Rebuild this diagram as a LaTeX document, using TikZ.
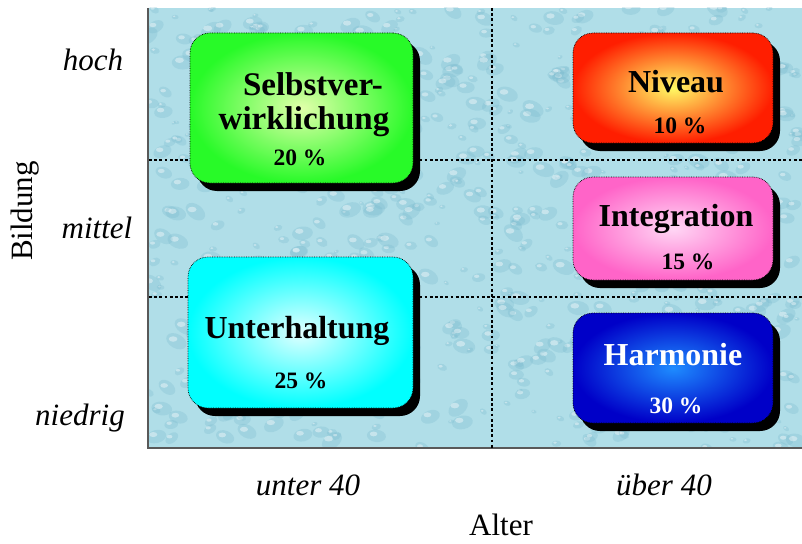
\documentclass[tikz,border=0pt]{standalone}
\usepackage{fontspec}
\setmainfont{Liberation Serif}[ItalicFont={Liberation Serif Italic}, BoldFont={Liberation Serif Bold}]
\usetikzlibrary{shadows}
\definecolor{panelbg}{RGB}{176,222,232}
\definecolor{dropdark}{RGB}{120,185,205}
\definecolor{greenout}{RGB}{40,250,40}
\definecolor{greenin}{RGB}{225,255,170}
\definecolor{redout}{RGB}{255,30,0}
\definecolor{redin}{RGB}{255,250,100}
\definecolor{pinkout}{RGB}{255,100,200}
\definecolor{pinkin}{RGB}{255,215,245}
\definecolor{blueout}{RGB}{0,0,200}
\definecolor{bluein}{RGB}{30,140,255}
\definecolor{cyanout}{RGB}{0,255,255}
\definecolor{cyanin}{RGB}{225,255,255}
\begin{document}
\begin{tikzpicture}[x=1pt,y=-1pt,
  quad/.style={rounded corners=20pt, draw=black, densely dotted, line width=0.7pt,
    shading=radial, inner sep=0pt,
    drop shadow={opacity=1, fill=black, shadow xshift=7pt, shadow yshift=-8pt}},
  boxtitle/.style={font=\bfseries\fontsize{32}{38}\selectfont, inner sep=0pt},
  boxpct/.style={font=\bfseries\fontsize{23.5}{28}\selectfont, inner sep=0pt},
  axislabel/.style={font=\itshape\fontsize{31}{36}\selectfont, inner sep=0pt},
  axistitle/.style={font=\fontsize{31}{36}\selectfont, inner sep=0pt},
  grid dots/.style={line width=2.8pt, dash pattern=on 2.8pt off 2.4pt, black}]
\useasboundingbox (0,0) rectangle (802,543);
% panel
\fill[panelbg] (148,8) rectangle (802,448);
\begin{scope}
\clip (148,8) rectangle (802,448);
\pgfmathsetseed{11}
\foreach \i in {1,...,700}{
  \pgfmathsetmacro\cx{148+654*rnd}
  \pgfmathsetmacro\cy{8+440*rnd}
  \pgfmathsetmacro\rr{2.5+9*rnd}
  \pgfmathsetmacro\ang{-40+80*rnd}
  \fill[dropdark, opacity=0.28, rotate around={\ang:(\cx,\cy)}] (\cx,\cy) ellipse[x radius=\rr pt, y radius=0.65*\rr pt];
  \fill[white, opacity=0.4] (\cx-0.3*\rr,\cy-0.2*\rr) ellipse[x radius=0.4*\rr pt, y radius=0.25*\rr pt];
}
\end{scope}
\draw[line width=2pt, black!65] (148,8) -- (148,448) -- (802,448);
% grid lines
\coordinate (vt) at (492,8);
\coordinate (vb) at (492,448);
\coordinate (h1l) at (149,160);
\coordinate (h1r) at (802,160);
\coordinate (h2l) at (149,297);
\coordinate (h2r) at (802,297);
\draw[grid dots] (vt) -- (vb);
\draw[grid dots] (h1l) -- (h1r);
\draw[grid dots] (h2l) -- (h2r);
% boxes
\node[quad, inner color=greenin, outer color=greenout, minimum width=223pt, minimum height=150pt] (selbst) at (301.5,108) {};
\node[quad, inner color=redin, outer color=redout, minimum width=200pt, minimum height=110pt] (niveau) at (673,88) {};
\node[quad, inner color=pinkin, outer color=pinkout, minimum width=200pt, minimum height=103pt] (integ) at (673,228.5) {};
\node[quad, inner color=bluein, outer color=blueout, minimum width=200pt, minimum height=110pt] (harm) at (673,368) {};
\node[quad, inner color=cyanin, outer color=cyanout, minimum width=225pt, minimum height=151pt] (unterh) at (300.5,332.5) {};
% box texts
\node[boxtitle, font=\bfseries\fontsize{33}{38}\selectfont] (t1a) at (313,84) {Selbstver-};
\node[boxtitle, font=\bfseries\fontsize{33}{38}\selectfont] (t1b) at (304,122) {wirklichung};
\node[boxpct] (p1) at (300,158) {20 \%};
\node[boxtitle] (t2) at (676,82) {Niveau};
\node[boxpct] (p2) at (680,126) {10 \%};
\node[boxtitle] (t3) at (676,219) {Integration};
\node[boxpct] (p3) at (688,262) {15 \%};
\node[boxtitle, text=white] (t4) at (673,355) {Harmonie};
\node[boxpct, text=white] (p4) at (676,406) {30 \%};
\node[boxtitle] (t5) at (297,331) {Unterhaltung};
\node[boxpct] (p5) at (301,381) {25 \%};
% axis labels
\node[axislabel] (hoch) at (93,60) {hoch};
\node[axislabel] (mittel) at (97,228) {mittel};
\node[axislabel] (niedrig) at (80,418) {niedrig};
\node[axislabel] (u40) at (308,485) {unter 40};
\node[axislabel] (ue40) at (664,485) {über 40};
\node[axistitle] (alter) at (501,525) {Alter};
\node[axistitle, rotate=90] (bildung) at (25,211) {Bildung};
\end{tikzpicture}
\end{document}
